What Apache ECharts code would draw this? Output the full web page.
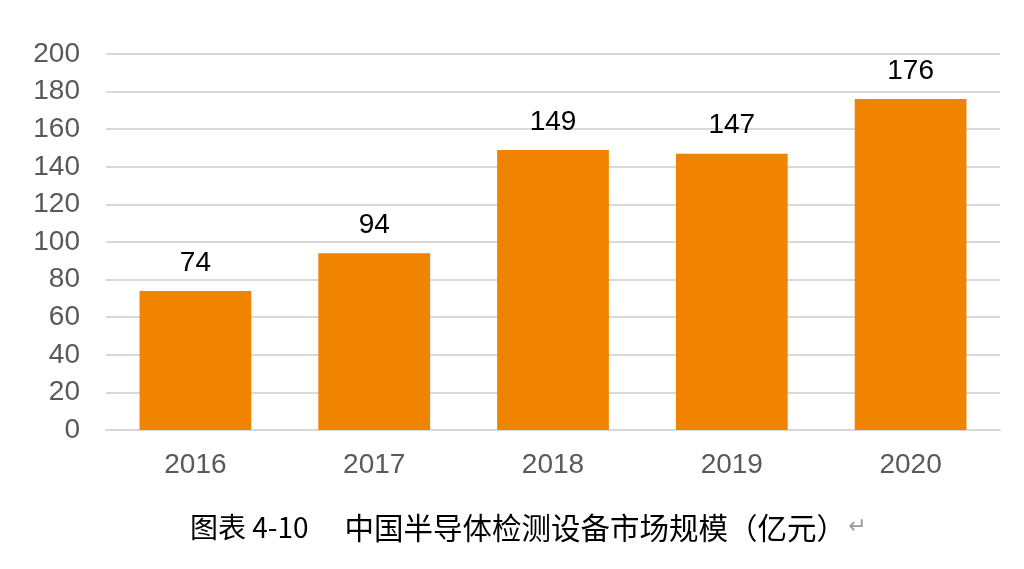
<!DOCTYPE html>
<html><head><meta charset="utf-8">
<script src="https://cdn.jsdelivr.net/npm/echarts@6/dist/echarts.min.js"></script>
<style>html,body{margin:0;padding:0;background:#fff}#c{width:1024px;height:569px}</style>
</head><body><div id="c"></div>
<script>
const categories = ['2016','2017','2018','2019','2020'];
const values = [74, 94, 149, 147, 176];
const yTicks = [0,20,40,60,80,100,120,140,160,180,200];
const captionNo = '图表 4-10';
const captionText = '中国半导体检测设备市场规模（亿元）';

const chart = echarts.init(document.getElementById('c'));
chart.setOption({
  animation: false,
  backgroundColor: '#fff',
  title: {
    text: '{a|' + captionNo + '}{g|}{c|' + captionText + '}{b|↵}',
    left: 185, top: 508,
    textStyle: {
      fontWeight: 'normal',
      rich: {
        a: {fontFamily: 'Noto Sans CJK SC', fontSize: 28, color: '#000', fontWeight: 'normal'},
        g: {width: 36},
        c: {fontFamily: 'Noto Sans CJK SC', fontSize: 29.5, color: '#000', fontWeight: 'normal'},
        b: {fontFamily: 'DejaVu Sans', fontSize: 22, color: '#999', padding: [0, 0, 0, 2]}
      }
    }
  },
  grid: {left: 106, right: 24, top: 54, bottom: 139},
  xAxis: {
    type: 'category', data: categories,
    axisLine: {lineStyle: {color: '#d9d9d9', width: 2}},
    axisTick: {show: false},
    axisLabel: {color: '#595959', fontSize: 28, fontFamily: 'Liberation Sans', margin: 21}
  },
  yAxis: {
    type: 'value', min: yTicks[0], max: yTicks[yTicks.length-1], interval: 20,
    axisLine: {show: false}, axisTick: {show: false},
    splitLine: {lineStyle: {color: '#d9d9d9', width: 2}},
    axisLabel: {color: '#595959', fontSize: 28, fontFamily: 'Liberation Sans', margin: 26}
  },
  series: [{
    type: 'bar', data: values, barWidth: '62.5%',
    itemStyle: {color: '#F08300'},
    label: {show: true, position: 'top', distance: 14, color: '#000', fontSize: 28, fontFamily: 'Liberation Sans'}
  }]
});
</script></body></html>
